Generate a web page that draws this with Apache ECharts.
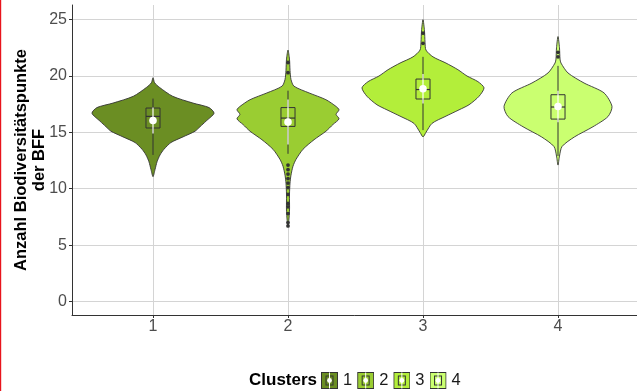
<!DOCTYPE html>
<html>
<head>
<meta charset="utf-8">
<script src="https://cdn.jsdelivr.net/npm/echarts@6/dist/echarts.min.js"></script>
<style>
  html, body { margin: 0; padding: 0; background: #ffffff; }
  #chart { width: 637px; height: 391px; }
</style>
</head>
<body>
<div id="chart"></div>
<script>
// Cluster labels and y-axis ticks
const clusters = ['1', '2', '3', '4'];
const yTicks = [0, 5, 10, 15, 20, 25];

// Violin outlines: [value, half-width in category units], top to bottom
const violin1 = [[19.85, 0], [19.4, 0.012], [19.0, 0.047], [18.2, 0.146], [17.6, 0.296], [17.2, 0.415],
  [16.7, 0.452], [16.0, 0.393], [15.5, 0.348], [15.1, 0.311], [14.6, 0.222], [14.1, 0.133],
  [13.5, 0.081], [13.0, 0.052], [12.4, 0.030], [11.7, 0.015], [11.07, 0]];
const violin2 = [[22.3, 0], [21.5, 0.011], [20.5, 0.015], [19.7, 0.022], [19.1, 0.044], [18.5, 0.156],
  [17.9, 0.281], [17.3, 0.356], [17.0, 0.378], [16.6, 0.356], [16.2, 0.378], [15.7, 0.333],
  [15.1, 0.281], [14.35, 0.193], [13.5, 0.111], [12.6, 0.059], [12.0, 0.037], [11.2, 0.022],
  [10.5, 0.015], [9.5, 0.011], [8.0, 0.011], [6.6, 0]];
const violin3 = [[25.0, 0], [24.0, 0.011], [23.0, 0.015], [22.3, 0.022], [21.7, 0.074], [21.15, 0.170],
  [20.56, 0.259], [20.0, 0.326], [19.5, 0.407], [18.95, 0.452], [18.2, 0.415], [17.45, 0.341],
  [17.0, 0.267], [16.4, 0.163], [15.8, 0.067], [15.0, 0.022], [14.6, 0]];
const violin4 = [[23.5, 0], [22.5, 0.011], [21.5, 0.015], [21.15, 0.022], [20.27, 0.074], [19.38, 0.193],
  [18.5, 0.341], [17.3, 0.400], [16.4, 0.370], [15.5, 0.259], [14.6, 0.122], [13.75, 0.030],
  [12.9, 0.011], [12.1, 0]];
const violins = [violin1, violin2, violin3, violin4];

// Box plot statistics per cluster
const whiskerLow = [13.0, 13.1, 15.2, 12.9];
const q1 = [15.39, 15.53, 17.96, 16.18];
const median = [16.42, 16.27, 18.8, 17.25];
const q3 = [17.16, 17.2, 19.73, 18.34];
const whiskerHigh = [18.0, 18.7, 21.7, 20.9];
const outliers = [
  [],
  [21.2, 20.3, 12.1, 11.7, 11.3, 10.9, 10.5, 10.1, 9.5, 8.7, 8.4, 7.8, 7.0, 6.7],
  [23.8, 22.9],
  [22.1, 21.7]
];

// Mean and standard deviation per cluster
const means = [16.06, 15.92, 18.87, 17.3];
const sds = [1.15, 2.0, 1.3, 1.4];

// Styling
const fillColors = ['#6b8e23', '#9acd32', '#b3ee3a', '#caff70'];
const outlineColor = '#363636';
const boxHalf = 0.052;
const fontFamily = 'Liberation Sans, Arial, sans-serif';

// Legend key: filled square with a small box, white line and white mean dot
function keyIcon(color) {
  const svg = '<svg xmlns="http://www.w3.org/2000/svg" width="17" height="17" viewBox="0 0 17 17">' +
    '<rect x="0.5" y="0.5" width="16" height="16" fill="' + color + '" stroke="#333"/>' +
    '<rect x="5" y="4" width="7" height="9" fill="none" stroke="#333"/>' +
    '<line x1="8.5" y1="0.5" x2="8.5" y2="16.5" stroke="#fff" stroke-width="1"/>' +
    '<circle cx="8.5" cy="8.5" r="2.4" fill="#fff"/></svg>';
  return 'image://data:image/svg+xml;charset=utf-8,' + encodeURIComponent(svg);
}

function makeRender(k) {
  return function (params, api) {
    const cx = k + 1;
    const prof = violins[k];
    const pts = [];
    for (let i = 0; i < prof.length; i++) pts.push(api.coord([cx - prof[i][1], prof[i][0]]));
    for (let i = prof.length - 2; i >= 1; i--) pts.push(api.coord([cx + prof[i][1], prof[i][0]]));
    const xc = api.coord([cx, 0])[0];
    const bx0 = api.coord([cx - boxHalf, 0])[0];
    const bx1 = api.coord([cx + boxHalf, 0])[0];
    const y = function (v) { return api.coord([cx, v])[1]; };
    const dark = { stroke: '#333333', lineWidth: 1 };
    const children = [
      { type: 'polygon', shape: { points: pts, smooth: 0.25 },
        style: { fill: fillColors[k], stroke: outlineColor, lineWidth: 0.9 } },
      { type: 'line', shape: { x1: xc, y1: y(q3[k]), x2: xc, y2: y(whiskerHigh[k]) }, style: dark },
      { type: 'line', shape: { x1: xc, y1: y(q1[k]), x2: xc, y2: y(whiskerLow[k]) }, style: dark },
      { type: 'rect', shape: { x: bx0, y: y(q3[k]), width: bx1 - bx0, height: y(q1[k]) - y(q3[k]) },
        style: { fill: 'none', stroke: '#333333', lineWidth: 1 } },
      { type: 'line', shape: { x1: bx0, y1: y(median[k]), x2: bx1, y2: y(median[k]) },
        style: { stroke: '#333333', lineWidth: 1.2 } }
    ];
    outliers[k].forEach(function (v) {
      children.push({ type: 'circle', shape: { cx: xc, cy: y(v), r: 1.9 }, style: { fill: '#333333' } });
    });
    children.push({ type: 'line',
      shape: { x1: xc, y1: y(means[k] + sds[k]), x2: xc, y2: y(means[k] - sds[k]) },
      style: { stroke: 'rgba(255,255,255,0.9)', lineWidth: 1.3 } });
    children.push({ type: 'circle', shape: { cx: xc, cy: y(means[k]), r: 3.8 }, style: { fill: '#ffffff' } });
    return { type: 'group', children: children };
  };
}

const chart = echarts.init(document.getElementById('chart'), null, { renderer: 'canvas' });

const series = clusters.map(function (name, k) {
  return {
    name: name,
    type: 'custom',
    renderItem: makeRender(k),
    itemStyle: { color: fillColors[k] },
    data: [[k + 1, means[k]]],
    silent: true,
    z: 3
  };
});

chart.setOption({
  animation: false,
  backgroundColor: '#ffffff',
  textStyle: { fontFamily: fontFamily },
  grid: { left: 72, right: -2, top: 5, bottom: 76, outerBoundsMode: 'none', containLabel: false },
  xAxis: {
    type: 'value',
    min: 0.4,
    max: 4.6,
    axisLine: { show: true, onZero: false, lineStyle: { color: '#333333', width: 1 } },
    axisTick: { show: true, customValues: [1, 2, 3, 4], length: 3, lineStyle: { color: '#333333' } },
    axisLabel: { customValues: [1, 2, 3, 4], color: '#4d4d4d', fontSize: 16, margin: 4,
      formatter: function (v) { return clusters[v - 1]; } },
    splitLine: { show: true, lineStyle: { color: '#d4d4d4', width: 1 } }
  },
  yAxis: {
    type: 'value',
    min: -1.2,
    max: 26.3,
    name: 'Anzahl Biodiversitätspunkte\nder BFF',
    nameLocation: 'middle',
    nameRotate: 90,
    nameGap: 24,
    nameMoveOverlap: false,
    nameTextStyle: { color: '#000000', fontSize: 16.5, fontWeight: 'bold', lineHeight: 18, align: 'center' },
    axisLine: { show: true, onZero: false, lineStyle: { color: '#333333', width: 1 } },
    axisTick: { show: true, customValues: yTicks, length: 3, lineStyle: { color: '#333333' } },
    axisLabel: { customValues: yTicks, color: '#4d4d4d', fontSize: 16, margin: 5 },
    splitLine: { show: true, lineStyle: { color: '#d4d4d4', width: 1 } }
  },
  legend: {
    left: 321,
    top: 372,
    orient: 'horizontal',
    itemWidth: 17,
    itemHeight: 17,
    itemGap: 5,
    padding: 0,
    selectedMode: false,
    textStyle: { color: '#1a1a1a', fontSize: 16.5 },
    data: clusters.map(function (name, k) { return { name: name, icon: keyIcon(fillColors[k]) }; })
  },
  graphic: [
    { type: 'text', left: 249, top: 372,
      style: { text: 'Clusters', fill: '#000000', fontSize: 17, fontWeight: 'bold', fontFamily: fontFamily } },
    { type: 'rect', left: 0, top: 0, shape: { width: 1.2, height: 391 }, style: { fill: '#e8141c' } }
  ],
  series: series
});
</script>
</body>
</html>
